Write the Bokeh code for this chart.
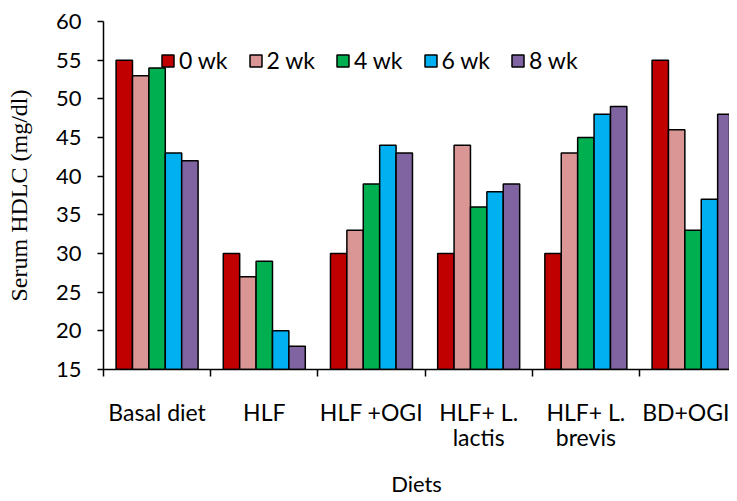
import numpy as np
from bokeh.plotting import figure
from bokeh.models import FixedTicker, Range1d, Legend, LegendItem, ColumnDataSource
from bokeh.embed import file_html
from bokeh.resources import INLINE

diets = ["Basal diet", "HLF", "HLF +OGI", "HLF+ L.\nlactis", "HLF+ L.\nbrevis", "BD+OGI"]
weeks = ["0 wk", "2 wk", "4 wk", "6 wk", "8 wk"]
wk0 = [55, 30, 30, 30, 30, 55]
wk2 = [53, 27, 33, 44, 43, 46]
wk4 = [54, 29, 39, 36, 45, 33]
wk6 = [43, 20, 44, 38, 48, 37]
wk8 = [42, 18, 43, 39, 49, 48]
series = [wk0, wk2, wk4, wk6, wk8]
colors = ["#C00000", "#DA9694", "#00B050", "#00B0F0", "#8064A2"]

FONT = "Lato"
bw = 0.153
n = len(diets)

p = figure(frame_width=626, frame_height=348, output_backend="svg", toolbar_location=None,
           x_range=Range1d(0, 5.84), y_range=Range1d(15, 60),
           min_border_left=103, min_border_top=21, min_border_right=0, min_border_bottom=0)
p.outline_line_color = None
p.xgrid.visible = False
p.ygrid.visible = False

items = []
for j, (vals, c, lab) in enumerate(zip(series, colors, weeks)):
    xs = np.arange(n) + 0.5 + (j - 2) * bw
    src = ColumnDataSource(dict(x=xs, top=vals))
    r = p.vbar(x="x", top="top", bottom=15, width=bw, source=src,
               fill_color=c, line_color="black", line_width=1.5)
    items.append(LegendItem(label=lab, renderers=[r]))

legend = Legend(items=items, orientation="horizontal", location=(57, 295),
                border_line_color=None, background_fill_alpha=0,
                padding=0, margin=0, spacing=20, label_standoff=4,
                glyph_width=15, glyph_height=15,
                label_text_font=FONT, label_text_font_size="23px",
                label_text_color="black")
p.add_layout(legend, "center")

# x axis
xa = p.xaxis[0]
xa.ticker = FixedTicker(ticks=[i + 0.5 for i in range(n)], minor_ticks=list(range(n + 1)))
xa.major_label_overrides = {i + 0.5: d for i, d in enumerate(diets)}
xa.major_tick_out = 0
xa.major_tick_in = 0
xa.minor_tick_out = 7
xa.minor_tick_in = 0
xa.minor_tick_line_color = "black"
xa.minor_tick_line_width = 1.5
xa.axis_line_color = "black"
xa.axis_line_width = 1.5
xa.major_label_standoff = 21
xa.major_label_text_font = FONT
xa.major_label_text_font_size = "23px"
xa.major_label_text_line_height = 0.9
xa.major_label_text_color = "black"
xa.axis_label = "Diets"
xa.axis_label_text_font = FONT
xa.axis_label_text_font_size = "22px"
xa.axis_label_text_font_style = "normal"
xa.axis_label_text_color = "black"
xa.axis_label_standoff = 16

# y axis
ya = p.yaxis[0]
ya.ticker = FixedTicker(ticks=list(range(15, 61, 5)), minor_ticks=[])
ya.major_tick_out = 6
ya.major_tick_in = 0
ya.major_tick_line_color = "black"
ya.major_tick_line_width = 1.5
ya.axis_line_color = "black"
ya.axis_line_width = 1.5
ya.major_label_standoff = 16
ya.major_label_text_font = FONT
ya.major_label_text_font_size = "22px"
ya.major_label_text_color = "black"
ya.axis_label = "Serum HDLC (mg/dl)"
ya.axis_label_text_font = "Liberation Serif"
ya.axis_label_text_font_size = "24px"
ya.axis_label_text_font_style = "normal"
ya.axis_label_text_color = "black"
ya.axis_label_standoff = 21

open("out.html", "w").write(file_html(p, INLINE))
